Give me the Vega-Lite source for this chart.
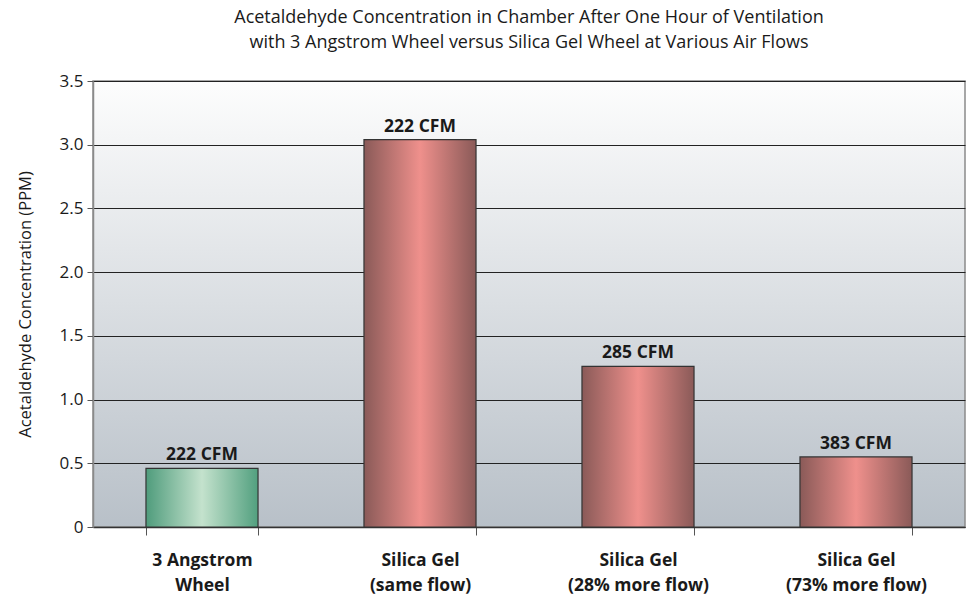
{
  "$schema": "https://vega.github.io/schema/vega-lite/v6.json",
  "width": 872,
  "height": 446,
  "autosize": {"type": "none"},
  "padding": {"left": 93, "top": 81, "right": 2, "bottom": 69},
  "background": "#ffffff",
  "title": {
    "text": ["Acetaldehyde Concentration in Chamber After One Hour of Ventilation", "with 3 Angstrom Wheel versus Silica Gel Wheel at Various Air Flows"],
    "font": "Open Sans",
    "fontSize": 18,
    "fontWeight": "normal",
    "color": "#1a1a1a",
    "anchor": "middle",
    "frame": "group",
    "lineHeight": 25,
    "offset": 20
  },
  "config": {
    "view": {
      "stroke": "#8a8a8a",
      "strokeWidth": 1.5,
      "fill": {
        "gradient": "linear",
        "x1": 0, "y1": 0, "x2": 0, "y2": 1,
        "stops": [
          {"offset": 0, "color": "#fdfdfd"},
          {"offset": 1, "color": "#b8c0c8"}
        ]
      }
    },
    "font": "Open Sans"
  },
  "data": {
    "values": [
      {"wheel": "3 Angstrom|Wheel", "type": "3A", "ppm": 0.46, "label": "222 CFM"},
      {"wheel": "Silica Gel|(same flow)", "type": "SG", "ppm": 3.04, "label": "222 CFM"},
      {"wheel": "Silica Gel|(28% more flow)", "type": "SG", "ppm": 1.26, "label": "285 CFM"},
      {"wheel": "Silica Gel|(73% more flow)", "type": "SG", "ppm": 0.55, "label": "383 CFM"}
    ]
  },
  "encoding": {
    "x": {
      "field": "wheel",
      "type": "nominal",
      "sort": null,
      "scale": {"paddingInner": 0.486, "paddingOuter": 0.243},
      "axis": {
        "title": null,
        "labelAngle": 0,
        "labelExpr": "split(datum.label, '|')",
        "labelFont": "Open Sans",
        "labelFontSize": 17.5,
        "labelFontWeight": "bold",
        "labelColor": "#1a1a1a",
        "labelLineHeight": 25,
        "labelPadding": 16,
        "labelBaseline": "top",
        "tickBand": "extent",
        "tickSize": 8,
        "tickColor": "#555555",
        "domainColor": "#333333",
        "domainWidth": 1.5,
        "grid": false
      }
    },
    "y": {
      "field": "ppm",
      "type": "quantitative",
      "scale": {"domain": [0, 3.5], "nice": false},
      "axis": {
        "title": "Acetaldehyde Concentration (PPM)",
        "titleFont": "Open Sans",
        "titleFontSize": 16.5,
        "titleFontWeight": "normal",
        "titleColor": "#1a1a1a",
        "titlePadding": 26,
        "values": [0, 0.5, 1, 1.5, 2, 2.5, 3, 3.5],
        "labelExpr": "datum.value == 0 ? '0' : format(datum.value, '.1f')",
        "labelFont": "Open Sans",
        "labelFontSize": 17,
        "labelColor": "#1a1a1a",
        "labelPadding": 4,
        "tickSize": 6,
        "tickColor": "#555555",
        "domainColor": "#8a8a8a",
        "domainWidth": 1.5,
        "grid": true,
        "gridColor": "#222222",
        "gridWidth": 1,
        "gridOpacity": 1
      }
    }
  },
  "layer": [
    {
      "mark": {"type": "bar", "stroke": "#333333", "strokeWidth": 1.2},
      "encoding": {
        "fill": {
          "condition": {
            "test": "datum.type == '3A'",
            "value": {
              "gradient": "linear",
              "x1": 0, "y1": 0, "x2": 1, "y2": 0,
              "stops": [
                {"offset": 0, "color": "#4f9c7c"},
                {"offset": 0.5, "color": "#c4e2cd"},
                {"offset": 1, "color": "#52a07f"}
              ]
            }
          },
          "value": {
            "gradient": "linear",
            "x1": 0, "y1": 0, "x2": 1, "y2": 0,
            "stops": [
              {"offset": 0, "color": "#8a5a58"},
              {"offset": 0.5, "color": "#ef908c"},
              {"offset": 1, "color": "#8a5a58"}
            ]
          }
        }
      }
    },
    {
      "mark": {"type": "text", "baseline": "bottom", "dy": -4, "font": "Open Sans", "fontSize": 17.5, "fontWeight": "bold", "color": "#1a1a1a"},
      "encoding": {"text": {"field": "label"}}
    }
  ]
}
